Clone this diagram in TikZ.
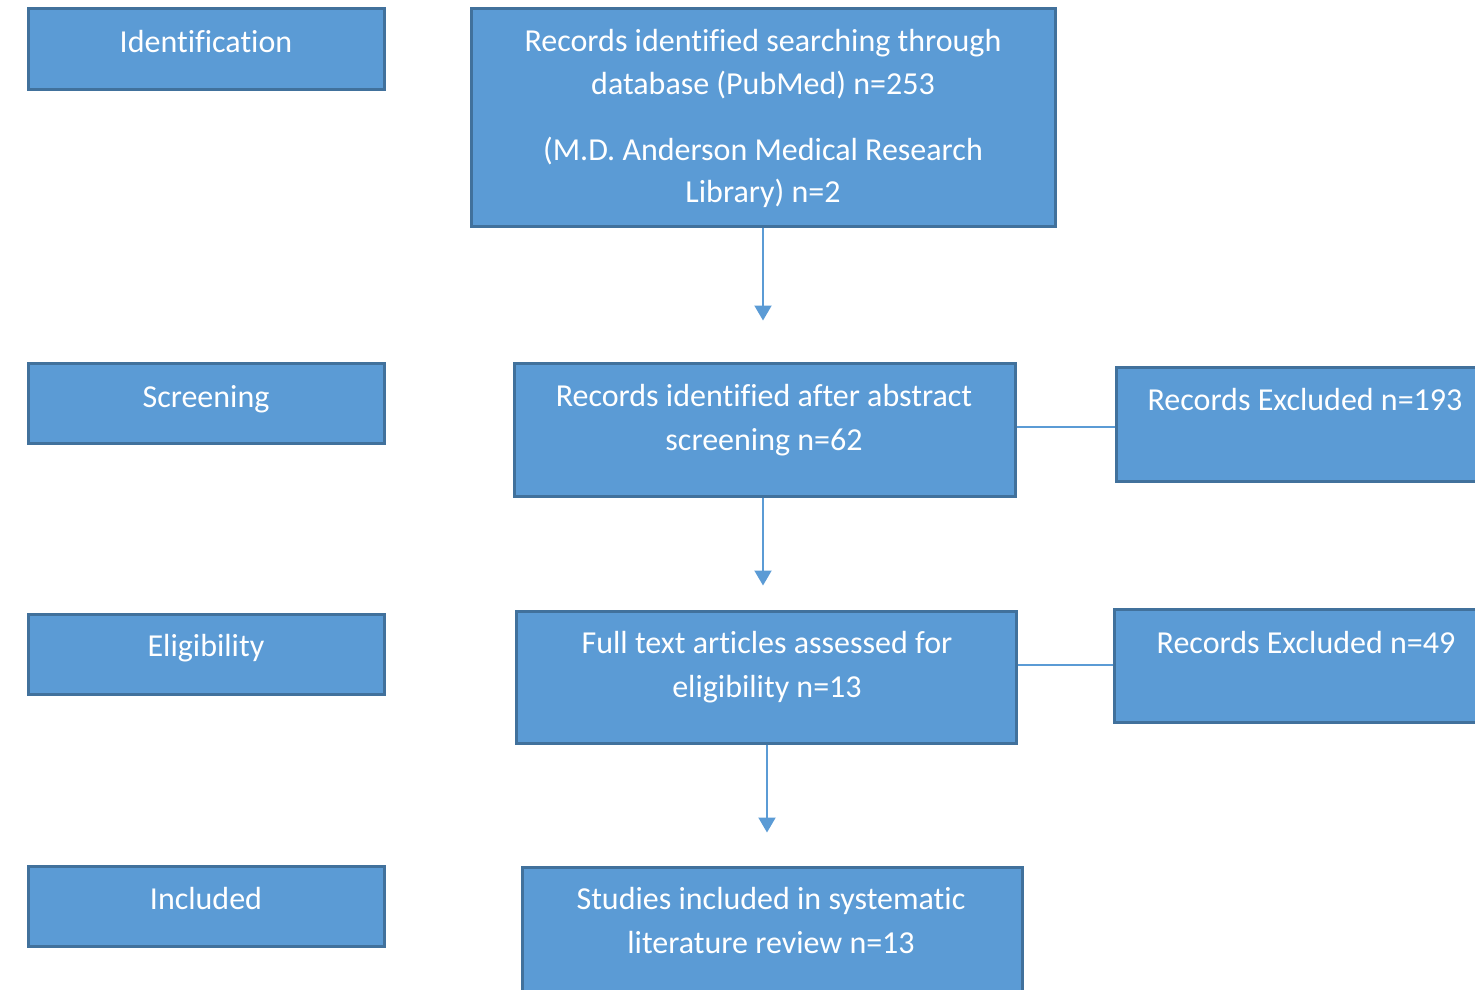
\documentclass[tikz,border=0pt]{standalone}
\usepackage{fontspec}
\setmainfont[Ligatures={NoCommon}]{Carlito}
\usetikzlibrary{arrows.meta}
\definecolor{boxfill}{HTML}{5B9BD5}
\definecolor{boxline}{HTML}{41719C}
\definecolor{conn}{HTML}{5B9BD5}
\tikzset{
  box/.style={draw=boxline, fill=boxfill, line width=3pt, rectangle, inner sep=0pt},
  txt/.style={text=white, font=\fontsize{32}{38}\selectfont, anchor=base, inner sep=0pt},
  conline/.style={draw=conn, line width=2pt},
  arr/.style={conline, -{Triangle[width=17pt,length=15pt]}}
}
\begin{document}
\begin{tikzpicture}[x=1pt,y=-1pt]
\useasboundingbox (0,0) rectangle (1475,990);
\clip (0,0) rectangle (1475,990);
% stage labels
\node[box, minimum width=356pt, minimum height=80pt] (ident) at (206,49) {};
\node[txt] (identt) at (206,53) {Identification};
\node[box, minimum width=356pt, minimum height=80pt] (screen) at (206,403) {};
\node[txt] (screent) at (206,407) {Screening};
\node[box, minimum width=356pt, minimum height=80pt] (elig) at (206,654) {};
\node[txt] (eligt) at (206,656) {Eligibility};
\node[box, minimum width=356pt, minimum height=80pt] (incl) at (206,906) {};
\node[txt] (inclt) at (206,909) {Included};
% main boxes
\node[box, minimum width=584pt, minimum height=217pt] (b1) at (763,117.5) {};
\node[txt] (b1a) at (763,52) {Records identified searching through};
\node[txt] (b1b) at (763,94) {database (PubMed) n=253};
\node[txt] (b1c) at (763,160) {(M.D. Anderson Medical Research};
\node[txt] (b1d) at (763,202) {Library) n=2};
\node[box, minimum width=501pt, minimum height=133pt] (b2) at (764.5,429.5) {};
\node[txt] (b2a) at (764,406) {Records identified after abstract};
\node[txt] (b2b) at (764,450) {screening n=62};
\node[box, minimum width=500pt, minimum height=132pt] (b3) at (766,677) {};
\node[txt] (b3a) at (767,653) {Full text articles assessed for};
\node[txt] (b3b) at (767,697) {eligibility n=13};
\node[box, minimum width=500pt, minimum height=160pt] (b4) at (772,947) {};
\node[txt] (b4a) at (771,909) {Studies included in systematic};
\node[txt] (b4b) at (771,953) {literature review n=13};
% excluded boxes
\node[box, minimum width=380pt, minimum height=114pt] (e1) at (1306,424) {};
\node[txt] (e1t) at (1305,410) {Records Excluded n=193};
\node[box, minimum width=384pt, minimum height=113pt] (e2) at (1306,665.5) {};
\node[txt] (e2t) at (1306,653) {Records Excluded n=49};
% connectors
\draw[arr] (b1.south) -- ++(0,93) coordinate (a1);
\draw[arr] (b2.south -| 763,0) -- ++(0,88) coordinate (a2);
\draw[arr] (b3.south -| 767,0) -- ++(0,88) coordinate (a3);
\draw[conline] (b2.east |- 0,427) -- (e1.west |- 0,427);
\draw[conline] (b3.east |- 0,665) -- (e2.west |- 0,665);
\end{tikzpicture}
\end{document}
